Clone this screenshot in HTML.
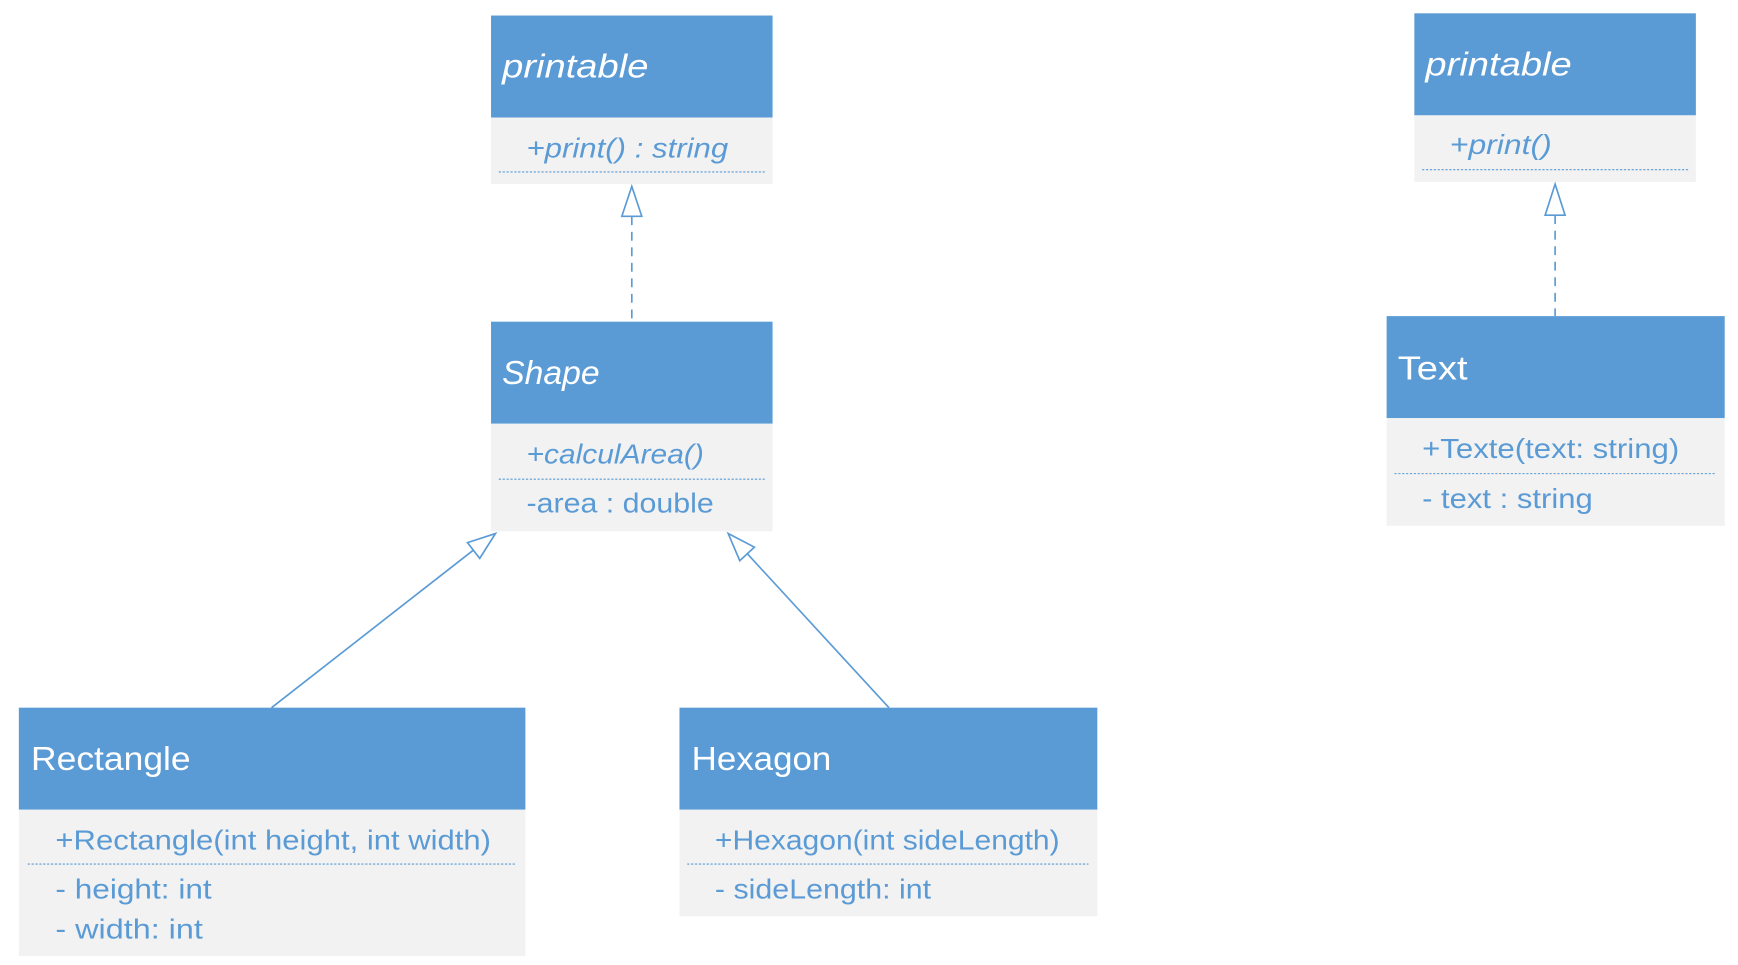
<!DOCTYPE html>
<html><head><meta charset="utf-8"><style>html,body{margin:0;padding:0;background:#fff}svg{display:block}</style></head>
<body>
<svg width="1738" height="965" viewBox="0 0 1568 870" preserveAspectRatio="none" xmlns="http://www.w3.org/2000/svg" font-family="'Liberation Sans', sans-serif">
<g fill="#5B9BD5">
<rect x="443" y="14" width="254" height="92"/>
<rect x="443" y="290" width="254" height="92"/>
<rect x="17" y="638" width="457" height="92"/>
<rect x="613" y="638" width="377" height="92"/>
<rect x="1276" y="12" width="254" height="92"/>
<rect x="1251" y="285" width="305" height="92"/>
</g>
<g fill="#F2F2F2">
<rect x="443" y="106" width="254" height="60"/>
<rect x="443" y="382" width="254" height="97"/>
<rect x="17" y="730" width="457" height="132"/>
<rect x="613" y="730" width="377" height="96"/>
<rect x="1276" y="104" width="254" height="60"/>
<rect x="1251" y="377" width="305" height="97"/>
</g>
<g stroke="#5B9BD5" stroke-width="1" stroke-dasharray="2,1.5">
<line x1="450" y1="155" x2="690" y2="155"/>
<line x1="450" y1="432" x2="690" y2="432"/>
<line x1="25" y1="779" x2="465" y2="779"/>
<line x1="620" y1="779" x2="982" y2="779"/>
<line x1="1283" y1="153" x2="1523" y2="153"/>
<line x1="1258" y1="427" x2="1548" y2="427"/>
</g>
<g stroke="#5B9BD5" stroke-width="1.5" fill="none">
<line x1="570" y1="195" x2="570" y2="290" stroke-dasharray="8,6"/>
<line x1="1403" y1="194" x2="1403" y2="285" stroke-dasharray="8,6"/>
<line x1="245" y1="638" x2="427" y2="496"/>
<line x1="802" y1="638" x2="674" y2="499"/>
<polygon points="570,168 561,195 579,195" fill="#fff"/>
<polygon points="1403,166 1394,194 1412,194" fill="#fff"/>
<polygon points="447,481 432.8,503.4 421.8,489.2" fill="#fff"/>
<polygon points="657,481 680.6,493.3 667.4,505.5" fill="#fff"/>
</g>
<g fill="#fff" font-size="30">
<text x="453" y="70" font-style="italic" textLength="132" lengthAdjust="spacingAndGlyphs">printable</text>
<text x="453" y="346" font-style="italic" textLength="88" lengthAdjust="spacingAndGlyphs">Shape</text>
<text x="28" y="694" textLength="144" lengthAdjust="spacingAndGlyphs">Rectangle</text>
<text x="624" y="694" textLength="126" lengthAdjust="spacingAndGlyphs">Hexagon</text>
<text x="1286" y="68" font-style="italic" textLength="132" lengthAdjust="spacingAndGlyphs">printable</text>
<text x="1261" y="342" textLength="63" lengthAdjust="spacingAndGlyphs">Text</text>
</g>
<g fill="#5B9BD5" font-size="25">
<text x="475" y="142" font-style="italic" textLength="182" lengthAdjust="spacingAndGlyphs">+print() : string</text>
<text x="475" y="418" font-style="italic" textLength="160" lengthAdjust="spacingAndGlyphs">+calculArea()</text>
<text x="475" y="462" textLength="169" lengthAdjust="spacingAndGlyphs">-area : double</text>
<text x="50" y="766" textLength="393" lengthAdjust="spacingAndGlyphs">+Rectangle(int height, int width)</text>
<text x="50" y="810" textLength="141" lengthAdjust="spacingAndGlyphs">- height: int</text>
<text x="50" y="846" textLength="133" lengthAdjust="spacingAndGlyphs">- width: int</text>
<text x="645" y="766" textLength="311" lengthAdjust="spacingAndGlyphs">+Hexagon(int sideLength)</text>
<text x="645" y="810" textLength="195" lengthAdjust="spacingAndGlyphs">- sideLength: int</text>
<text x="1308" y="139" font-style="italic" textLength="92" lengthAdjust="spacingAndGlyphs">+print()</text>
<text x="1283" y="413" textLength="232" lengthAdjust="spacingAndGlyphs">+Texte(text: string)</text>
<text x="1283" y="458" textLength="154" lengthAdjust="spacingAndGlyphs">- text : string</text>
</g>
</svg>
</body></html>
